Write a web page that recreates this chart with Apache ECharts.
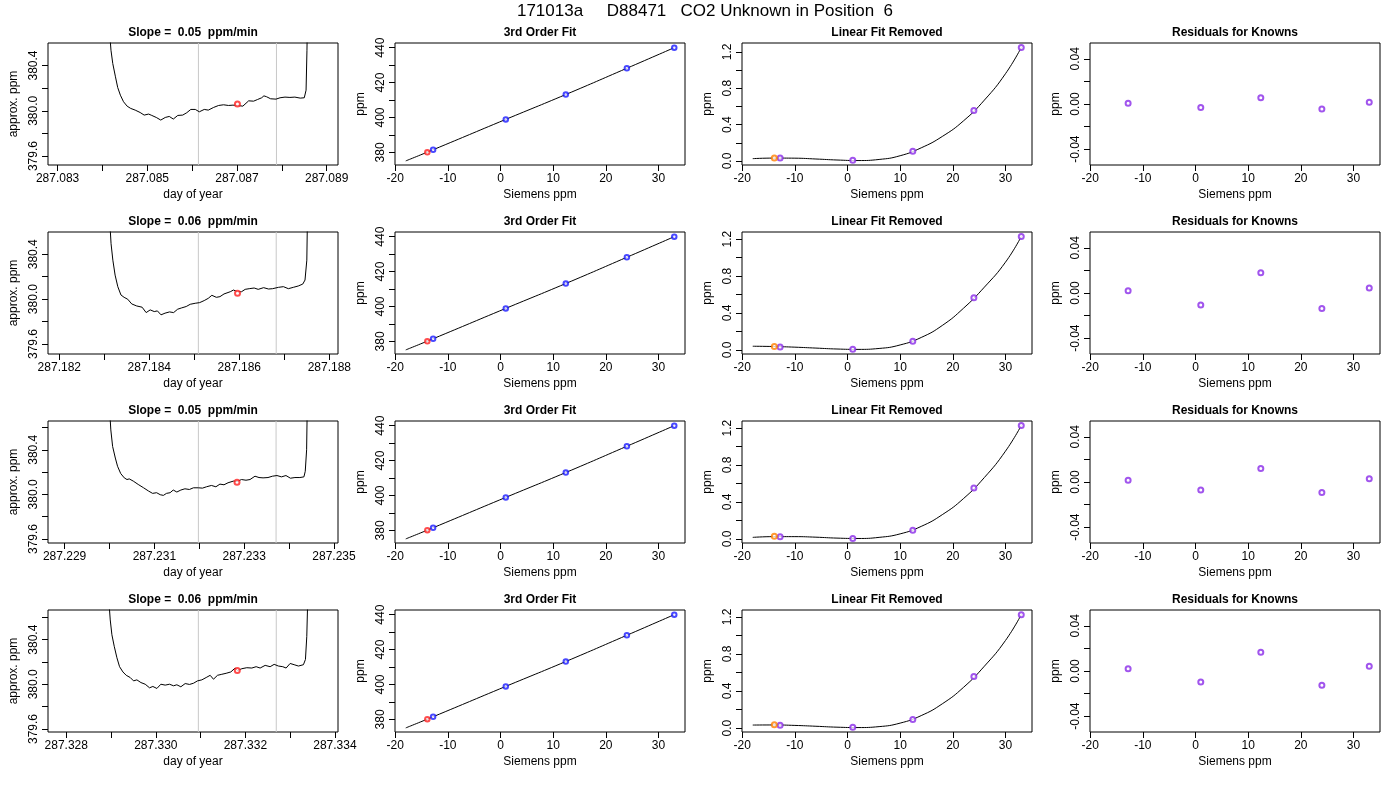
<!DOCTYPE html>
<html>
<head>
<meta charset="utf-8">
<script src="https://cdn.jsdelivr.net/npm/echarts@6/dist/echarts.min.js"></script>
<style>
  html, body { margin: 0; background: #fff; }
  #chart { width: 1400px; height: 800px; }
</style>
</head>
<body>
<div id="chart"></div>
<script>
// ---- data ----
var mainTitle = '171013a     D88471   CO2 Unknown in Position  6';
var slopes = ['0.05', '0.06', '0.05', '0.06'];

// column 1: raw trace, day of year vs approx. ppm
var trace1Day = [287.08414, 287.08419, 287.08423, 287.08429, 287.08434, 287.0844, 287.08447, 287.08455, 287.08463, 287.08473,
  287.08484, 287.08493, 287.08503, 287.0851, 287.0852, 287.0853, 287.0854, 287.08549, 287.08558, 287.08568,
  287.08579, 287.08588, 287.08597, 287.08607, 287.08616, 287.08627, 287.08636, 287.08648, 287.08659, 287.0867,
  287.08681, 287.08691, 287.08701, 287.08713, 287.08726, 287.08737, 287.08746, 287.08755, 287.0876, 287.08766,
  287.08775, 287.08787, 287.08796, 287.08807, 287.08818, 287.08829, 287.08841, 287.0885, 287.08854, 287.08856, 287.08857];
var trace1Ppm = [380.80, 380.535, 380.418, 380.30, 380.206, 380.138, 380.08, 380.041, 380.021, 380.006,
  379.985, 379.962, 379.971, 379.959, 379.941, 379.918, 379.941, 379.95, 379.927, 379.959,
  379.962, 379.983, 380.012, 380.012, 379.991, 380.012, 380.006, 380.03, 380.047, 380.053,
  380.047, 380.05, 380.047, 380.041, 380.088, 380.085, 380.1, 380.115, 380.132, 380.124,
  380.106, 380.103, 380.115, 380.121, 380.118, 380.121, 380.112, 380.115, 380.182, 380.535, 380.80];

var trace2Day = [287.18312, 287.18315, 287.18319, 287.18324, 287.1833, 287.18337, 287.18344, 287.18352, 287.18361, 287.18372,
  287.18384, 287.18393, 287.18402, 287.18411, 287.18418, 287.18426, 287.18435, 287.18445, 287.18454, 287.18463,
  287.18472, 287.18482, 287.18491, 287.18502, 287.18512, 287.18522, 287.18531, 287.18539, 287.18549, 287.18557,
  287.18566, 287.1858, 287.18587, 287.18596, 287.18605, 287.18613, 287.18622, 287.18633, 287.18642, 287.18654,
  287.18665, 287.18674, 287.18687, 287.18698, 287.18709, 287.1872, 287.18731, 287.18741, 287.18746, 287.1875,
  287.18751, 287.18752];
var trace2Ppm = [380.70, 380.494, 380.347, 380.214, 380.111, 380.037, 380.016, 379.999, 379.957, 379.939,
  379.928, 379.88, 379.904, 379.889, 379.895, 379.86, 379.875, 379.886, 379.88, 379.91,
  379.922, 379.934, 379.954, 379.963, 379.969, 379.987, 380.007, 380.034, 380.016, 380.022,
  380.046, 380.066, 380.081, 380.066, 380.066, 380.087, 380.093, 380.099, 380.087, 380.102,
  380.09, 380.093, 380.105, 380.111, 380.093, 380.105, 380.117, 380.134, 380.17, 380.347,
  380.613, 380.75];

var trace3Day = [287.230, 287.23003, 287.23007, 287.23013, 287.23018, 287.23025, 287.23033, 287.23039, 287.23044, 287.23053,
  287.23064, 287.23076, 287.23087, 287.23096, 287.23105, 287.23113, 287.2312, 287.23127, 287.23135, 287.23142,
  287.2315, 287.23159, 287.23168, 287.23178, 287.23187, 287.23198, 287.23207, 287.23216, 287.23227, 287.23237,
  287.23246, 287.23255, 287.23264, 287.23276, 287.23284, 287.23294, 287.23304, 287.23313, 287.23324, 287.23333,
  287.23342, 287.23353, 287.23363, 287.23373, 287.23383, 287.23393, 287.23403, 287.23413, 287.23424, 287.23433,
  287.23436, 287.23439, 287.2344, 287.23441];
var trace3Ppm = [380.785, 380.578, 380.43, 380.326, 380.252, 380.187, 380.148, 380.133, 380.139, 380.119,
  380.089, 380.059, 380.03, 380.009, 380.015, 379.997, 379.991, 380.009, 380.015, 380.039,
  380.021, 380.039, 380.05, 380.044, 380.059, 380.059, 380.056, 380.068, 380.08, 380.068,
  380.092, 380.086, 380.104, 380.119, 380.116, 380.133, 380.127, 380.133, 380.163, 380.151,
  380.148, 380.151, 380.163, 380.169, 380.157, 380.169, 380.145, 380.151, 380.151, 380.157,
  380.207, 380.4, 380.667, 380.8];

var trace4Day = [287.328945, 287.328982, 287.329019, 287.329071, 287.329131, 287.32919, 287.329265, 287.329339, 287.329428, 287.329503,
  287.329577, 287.329667, 287.329763, 287.32986, 287.329934, 287.330024, 287.330113, 287.33021, 287.330306, 287.330396,
  287.33047, 287.330559, 287.330656, 287.330753, 287.330842, 287.330931, 287.331028, 287.331125, 287.331214, 287.331288,
  287.331378, 287.331474, 287.331571, 287.331675, 287.331772, 287.331824, 287.331921, 287.332032, 287.332144, 287.332241,
  287.33233, 287.332442, 287.332553, 287.332643, 287.332739, 287.332836, 287.33291, 287.333, 287.333089, 287.333186,
  287.333297, 287.333342, 287.333372, 287.333387, 287.333394];
var trace4Ppm = [380.784, 380.577, 380.444, 380.341, 380.238, 380.158, 380.111, 380.081, 380.061, 380.031,
  380.04, 380.016, 380.001, 379.969, 379.981, 379.963, 380.001, 379.993, 380.001, 379.987,
  379.996, 379.978, 380.007, 379.999, 380.01, 380.031, 380.04, 380.061, 380.081, 380.046,
  380.081, 380.09, 380.099, 380.111, 380.146, 380.123, 380.14, 380.149, 380.146, 380.158,
  380.146, 380.17, 380.158, 380.179, 380.164, 380.158, 380.146, 380.187, 380.176, 380.164,
  380.176, 380.223, 380.43, 380.666, 380.8];

// averaging window (grey lines) and the unknown's mean (red point)
var window1 = [287.08614, 287.08788];
var window2 = [287.18509, 287.18682];
var window3 = [287.23198, 287.23371];
var window4 = [287.33095, 287.33269];
var unknownDay = [287.08701, 287.18596, 287.23284, 287.33182];
var unknownPpm = [380.06, 380.052, 380.109, 380.123];

// columns 2-4: calibration against the knowns
var knownSiemens = [-12.8, 1.0, 12.4, 24.0, 33.0];
var knownPpm = [381.5, 398.9, 413.15, 428.2, 440.0];
var unknownSiemens = -13.9;
var fitSiemens = [-18, -12.8, 1.0, 12.4, 24.0, 33.0];
var fitPpm = [375.1, 381.5, 398.9, 413.15, 428.2, 440.0];

var curveSiemens = [-18, -14, -10, -6, -2, 2, 6, 10, 14, 18, 22, 26, 30, 33];
var curve1 = [0.026, 0.032, 0.031, 0.022, 0.011, 0.005, 0.017, 0.058, 0.145, 0.27, 0.44, 0.67, 0.96, 1.248];
var curve2 = [0.04, 0.037, 0.03, 0.02, 0.01, 0.006, 0.016, 0.054, 0.135, 0.265, 0.45, 0.68, 0.95, 1.228];
var curve3 = [0.016, 0.024, 0.024, 0.018, 0.008, 0.004, 0.016, 0.054, 0.135, 0.262, 0.435, 0.665, 0.95, 1.228];
var curve4 = [0.033, 0.034, 0.029, 0.02, 0.01, 0.006, 0.016, 0.054, 0.135, 0.262, 0.438, 0.668, 0.945, 1.224];
var removed1 = [0.033, 0.007, 0.106, 0.556, 1.248];
var removed2 = [0.032, 0.008, 0.093, 0.564, 1.228];
var removed3 = [0.024, 0.004, 0.093, 0.552, 1.228];
var removed4 = [0.032, 0.008, 0.093, 0.556, 1.224];
var removedUnknown = [0.033, 0.036, 0.028, 0.036];

var resid1 = [0.0006, -0.0032, 0.0056, -0.0044, 0.0015];
var resid2 = [0.0021, -0.0106, 0.0179, -0.0138, 0.0044];
var resid3 = [0.0015, -0.0071, 0.012, -0.0094, 0.0029];
var resid4 = [0.0021, -0.0097, 0.0165, -0.0126, 0.0041];

// tick marks and tick labels
var dayTicks = [
  [287.083, 287.084, 287.085, 287.086, 287.087, 287.088, 287.089],
  [287.182, 287.183, 287.184, 287.185, 287.186, 287.187, 287.188],
  [287.229, 287.230, 287.231, 287.232, 287.233, 287.234, 287.235],
  [287.328, 287.329, 287.330, 287.331, 287.332, 287.333, 287.334]
];
var dayLabels = [
  [287.083, 287.085, 287.087, 287.089],
  [287.182, 287.184, 287.186, 287.188],
  [287.229, 287.231, 287.233, 287.235],
  [287.328, 287.330, 287.332, 287.334]
];
var ppmTicks = [379.6, 379.8, 380.0, 380.2, 380.4, 380.6];
var ppmLabels = [379.6, 380.0, 380.4];
var siemensTicks = [-20, -10, 0, 10, 20, 30];
var fitTicks = [380, 390, 400, 410, 420, 430, 440];
var fitLabels = [380, 400, 420, 440];
var removedTicks = [0, 0.2, 0.4, 0.6, 0.8, 1.0, 1.2];
var removedLabels = [0, 0.4, 0.8, 1.2];
var residTicks = [-0.04, -0.02, 0, 0.02, 0.04];
var residLabels = [-0.04, 0, 0.04];

// ---- chart ----
var FONT = '"Liberation Sans", Arial, Helvetica, sans-serif';
var chart = echarts.init(document.getElementById('chart'));

var traces = [[trace1Day, trace1Ppm], [trace2Day, trace2Ppm], [trace3Day, trace3Ppm], [trace4Day, trace4Ppm]];
var windows = [window1, window2, window3, window4];
var curves = [curve1, curve2, curve3, curve4];
var removed = [removed1, removed2, removed3, removed4];
var resids = [resid1, resid2, resid3, resid4];

// axis extents of each panel
var dayRange = [[287.082786, 287.089252], [287.181749, 287.188193], [287.228631, 287.235089], [287.327592, 287.334069]];
var ppmRange = [[379.521, 380.599], [379.511, 380.598], [379.564, 380.658], [379.573, 380.666]];
var removedRange = [[-0.044, 1.298], [-0.044, 1.277], [-0.045, 1.277], [-0.042, 1.274]];

var colLeft = [48, 395, 742, 1090];
var rowTop = [43, 232, 421, 610];
var boxW = 290, boxH = 122;

var grids = [], xAxes = [], yAxes = [], series = [];
var graphics = [{
  type: 'text', x: 705, y: 11,
  style: { text: mainTitle, font: '17px ' + FONT, fill: '#000', align: 'center', verticalAlign: 'middle',
    textAlign: 'center', textVerticalAlign: 'middle' }
}];

function zip(xs, ys) {
  return xs.map(function (x, i) { return [x, ys[i]]; });
}

function makeAxis(dim, idx, range, ticks, labels, digits, name, gap) {
  return {
    type: 'value', gridIndex: idx, min: range[0], max: range[1],
    position: dim === 'x' ? 'bottom' : 'left',
    name: name, nameLocation: 'middle', nameGap: gap,
    nameTextStyle: { color: '#000', fontSize: 12, fontFamily: FONT },
    axisLine: { show: false, onZero: false },
    axisTick: { show: true, length: 6, customValues: ticks, lineStyle: { color: '#000', width: 1 } },
    axisLabel: {
      customValues: labels, color: '#000', fontSize: 12, fontFamily: FONT, margin: 8,
      rotate: dim === 'x' ? 0 : 90,
      formatter: function (v) { return Number(v).toFixed(digits); }
    },
    splitLine: { show: false }
  };
}

function circles(idx, data, color, size) {
  return {
    type: 'scatter', xAxisIndex: idx, yAxisIndex: idx, data: data,
    symbol: 'emptyCircle', symbolSize: size,
    itemStyle: { color: color, borderColor: color, borderWidth: 1.2 },
    z: 5
  };
}

function curveLine(idx, data, smooth, color) {
  return {
    type: 'line', xAxisIndex: idx, yAxisIndex: idx, data: data,
    showSymbol: false, smooth: smooth, clip: true,
    lineStyle: { color: color || '#000', width: 1 }
  };
}

for (var r = 0; r < 4; r++) {
  var titles = ['Slope =  ' + slopes[r] + '  ppm/min', '3rd Order Fit', 'Linear Fit Removed', 'Residuals for Knowns'];
  for (var c = 0; c < 4; c++) {
    grids.push({
      left: colLeft[c], top: rowTop[r], width: boxW, height: boxH,
      show: true, borderColor: '#000', borderWidth: 1, backgroundColor: 'transparent'
    });
    graphics.push({
      type: 'text', x: colLeft[c] + boxW / 2, y: rowTop[r] - 10,
      style: { text: titles[c], font: 'bold 12px ' + FONT, fill: '#000', align: 'center', verticalAlign: 'middle',
        textAlign: 'center', textVerticalAlign: 'middle' }
    });
  }

  // raw trace with the averaging window
  var i0 = r * 4;
  xAxes.push(makeAxis('x', i0, dayRange[r], dayTicks[r], dayLabels[r], 3, 'day of year', 24));
  yAxes.push(makeAxis('y', i0, ppmRange[r], ppmTicks, ppmLabels, 1, 'approx. ppm', 28));
  for (var w = 0; w < 2; w++) {
    series.push(curveLine(i0, [[windows[r][w], ppmRange[r][0]], [windows[r][w], ppmRange[r][1]]], false, '#c8c8c8'));
  }
  series.push(curveLine(i0, zip(traces[r][0], traces[r][1]), false));
  series.push(circles(i0, [[unknownDay[r], unknownPpm[r]]], '#ff2020', 5));

  // 3rd order fit
  var i1 = r * 4 + 1;
  xAxes.push(makeAxis('x', i1, [-20.04, 35.04], siemensTicks, siemensTicks, 0, 'Siemens ppm', 24));
  yAxes.push(makeAxis('y', i1, [372.76, 442.67], fitTicks, fitLabels, 0, 'ppm', 28));
  series.push(curveLine(i1, zip(fitSiemens, fitPpm), true));
  series.push(circles(i1, zip(knownSiemens, knownPpm), '#1a1aff', 4.5));
  series.push(circles(i1, [[unknownSiemens, unknownPpm[r]]], '#ff2020', 4.5));

  // linear fit removed
  var i2 = r * 4 + 2;
  xAxes.push(makeAxis('x', i2, [-20.04, 35.04], siemensTicks, siemensTicks, 0, 'Siemens ppm', 24));
  yAxes.push(makeAxis('y', i2, removedRange[r], removedTicks, removedLabels, 1, 'ppm', 28));
  series.push(curveLine(i2, zip(curveSiemens, curves[r]), true));
  series.push(circles(i2, zip(knownSiemens, removed[r]), '#8a2be8', 5));
  series.push(circles(i2, [[unknownSiemens, removedUnknown[r]]], '#ff8000', 5));

  // residuals
  var i3 = r * 4 + 3;
  xAxes.push(makeAxis('x', i3, [-20.04, 35.04], siemensTicks, siemensTicks, 0, 'Siemens ppm', 24));
  yAxes.push(makeAxis('y', i3, [-0.054, 0.054], residTicks, residLabels, 2, 'ppm', 28));
  series.push(circles(i3, zip(knownSiemens, resids[r]), '#8a2be8', 5));
}

var option = {
  animation: false,
  backgroundColor: '#fff',
  textStyle: { fontFamily: FONT },
  grid: grids,
  xAxis: xAxes,
  yAxis: yAxes,
  series: series,
  graphic: graphics
};

option && chart.setOption(option);
</script>
</body>
</html>
